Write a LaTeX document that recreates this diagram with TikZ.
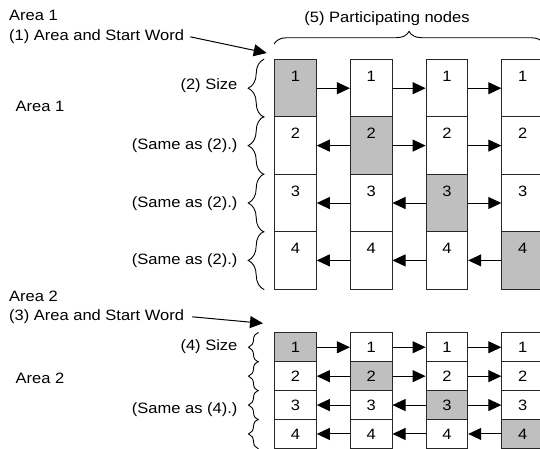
\documentclass[tikz,border=0pt]{standalone}
\usepackage{fontspec}
\setmainfont{Liberation Sans}[FakeStretch=1.1]
\usetikzlibrary{arrows.meta,decorations.pathreplacing,positioning}
\begin{document}
\begin{tikzpicture}[x=1pt,y=-1pt,font=\fontsize{15}{17}\selectfont,
 cellA/.style={draw=black!85,line width=1pt,minimum width=41.6pt,inner sep=0pt,text height=22pt,text depth=35.4pt,anchor=north},
 cellB/.style={draw=black!85,line width=1pt,minimum width=41.6pt,minimum height=28.9pt,inner sep=0pt,anchor=north},
 link/.style={line width=1pt,-{Triangle[length=13pt,width=12pt]}},
 brc/.style={decorate,decoration={brace,amplitude=#1},line width=.9pt},
 lbl/.style={inner sep=0pt,anchor=base east},
 head/.style={inner sep=0pt,anchor=base west}]
\useasboundingbox(0,0)rectangle(540,448);\clip(0,0)rectangle(540,448);
% area 1
\foreach\r in{1,...,4}\foreach\c in{1,...,4}{\pgfmathsetmacro\xc{295.5+75.7*(\c-1)}\ifnum\r=\c\def\fc{black!25}\else\def\fc{white}\fi
 \node[cellA,fill=\fc](a\r\c)at(\xc,{59+57.4*(\r-1)}){\r};}
\foreach\r in{1,...,4}\foreach\c/\d in{1/2,2/3,3/4}{\ifnum\c<\r\draw[link](a\r\d.west)--(a\r\c.east);\else\draw[link](a\r\c.east)--(a\r\d.west);\fi}
\foreach\r in{1,...,4}{\draw[brc=16pt]([xshift=-10pt]a\r1.south west)--([xshift=-10pt]a\r1.north west);}
\draw[brc=12.6pt]([yshift=15pt]a11.north west)--([yshift=15pt]a14.north east);
\node[inner sep=0pt,anchor=base](part)at(387,22.7){(5) Participating nodes};
\node[head](hd1)at(9,20.7){Area 1};\node[head](sw1)at(9,40.7){(1) Area and Start Word};\coordinate(tip1)at(266.7,53);
\draw[link]([xshift=6pt]sw1.east)--(tip1);
\node[head](ar1)at(15.5,111){Area 1};
\node[lbl](sz2)at(237.6,89.5){(2) Size};
\foreach\r/\y in{2/149.5,3/207,4/264.5}{\node[lbl](sa\r)at(237.6,\y){(Same as (2).)};}
% area 2
\foreach\r in{1,...,4}\foreach\c in{1,...,4}{\pgfmathsetmacro\xc{295.5+75.7*(\c-1)}\ifnum\r=\c\def\fc{black!25}\else\def\fc{white}\fi
 \node[cellB,fill=\fc](b\r\c)at(\xc,{332.3+28.9*(\r-1)}){\r};}
\foreach\r in{1,...,4}\foreach\c/\d in{1/2,2/3,3/4}{\ifnum\c<\r\draw[link](b\r\d.west)--(b\r\c.east);\else\draw[link](b\r\c.east)--(b\r\d.west);\fi}
\foreach\r in{1,...,4}{\draw[brc=10pt]([xshift=-15.7pt]b\r1.south west)--([xshift=-15.7pt]b\r1.north west);}
\node[head](hd2)at(9,301.7){Area 2};\node[head](sw2)at(9,320.7){(3) Area and Start Word};\coordinate(tip2)at(263,323.3);
\draw[link]([xshift=8pt]sw2.east)--(tip2);
\node[head](ar2)at(15.5,383.8){Area 2};
\node[lbl](sz4)at(237.6,350.5){(4) Size};
\node[lbl](sa4)at(237.6,413){(Same as (4).)};
\end{tikzpicture}
\end{document}
